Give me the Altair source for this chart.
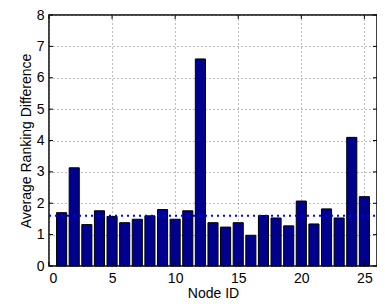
import altair as alt
import pandas as pd

node_ids = list(range(1, 26))
avg_diff = [1.70, 3.13, 1.32, 1.76, 1.58, 1.38, 1.49, 1.60, 1.80, 1.49,
            1.76, 6.60, 1.38, 1.24, 1.38, 0.98, 1.61, 1.53, 1.28, 2.07,
            1.34, 1.82, 1.53, 4.10, 2.21]
ref_line = [1.60]
x_ticks = [0, 5, 10, 15, 20, 25]
y_ticks = [0, 1, 2, 3, 4, 5, 6, 7, 8]

W, H = 328, 251
FONT = "Liberation Sans"

df = pd.DataFrame({"node": node_ids, "value": avg_diff})
xscale = alt.Scale(domain=[0, 26], nice=False, zero=False)
yscale = alt.Scale(domain=[0, 8], nice=False)

grid_style = dict(grid=True, gridDash=[1, 3], gridColor="#777777", gridWidth=1,
                  domain=False, ticks=False, labelFont=FONT, labelFontSize=14,
                  labelColor="black", titleFont=FONT, titleFontSize=14,
                  titleFontWeight="normal", titleColor="black")
xaxis = alt.Axis(values=x_ticks, title="Node ID", labelPadding=5,
                 titlePadding=1, **grid_style)
yaxis = alt.Axis(values=y_ticks, title="Average Ranking Difference",
                 labelPadding=5, titlePadding=3, **grid_style)

bars = alt.Chart(df).transform_calculate(
    x0="datum.node - 0.4", x1="datum.node + 0.4"
).mark_bar(color="#00008F", stroke="black", strokeWidth=1).encode(
    x=alt.X("x0:Q", scale=xscale, axis=xaxis),
    x2="x1:Q",
    y=alt.Y("value:Q", scale=yscale, stack=None, axis=yaxis),
    y2=alt.datum(0),
)

line_df = pd.DataFrame({"m": ref_line})
mean_rule = alt.Chart(line_df).mark_rule(
    color="#0000FF", strokeDash=[2, 4], strokeWidth=2
).encode(y=alt.Y("m:Q", scale=yscale, axis=yaxis),
         x=alt.value(0), x2=alt.value(W))

ydf = pd.DataFrame({"t": y_ticks})
xdf = pd.DataFrame({"t": x_ticks})
tick_l = alt.Chart(ydf).mark_rule(color="black").encode(
    y=alt.Y("t:Q", scale=yscale, axis=yaxis), x=alt.value(0), x2=alt.value(4))
tick_r = alt.Chart(ydf).mark_rule(color="black").encode(
    y=alt.Y("t:Q", scale=yscale, axis=yaxis), x=alt.value(W - 4), x2=alt.value(W))
tick_b = alt.Chart(xdf).mark_rule(color="black").encode(
    x=alt.X("t:Q", scale=xscale, axis=xaxis), y=alt.value(H - 4), y2=alt.value(H))
tick_t = alt.Chart(xdf).mark_rule(color="black").encode(
    x=alt.X("t:Q", scale=xscale, axis=xaxis), y=alt.value(0), y2=alt.value(4))

chart = alt.layer(bars, mean_rule, tick_l, tick_r, tick_b, tick_t).properties(
    width=W, height=H,
    autosize=alt.AutoSizeParams(type="none"),
    padding={"left": 41, "top": 7, "right": 0, "bottom": 38},
).configure_view(stroke="black", strokeWidth=1.5)

chart.save("out.html", embed_options={"renderer": "svg", "actions": False})
